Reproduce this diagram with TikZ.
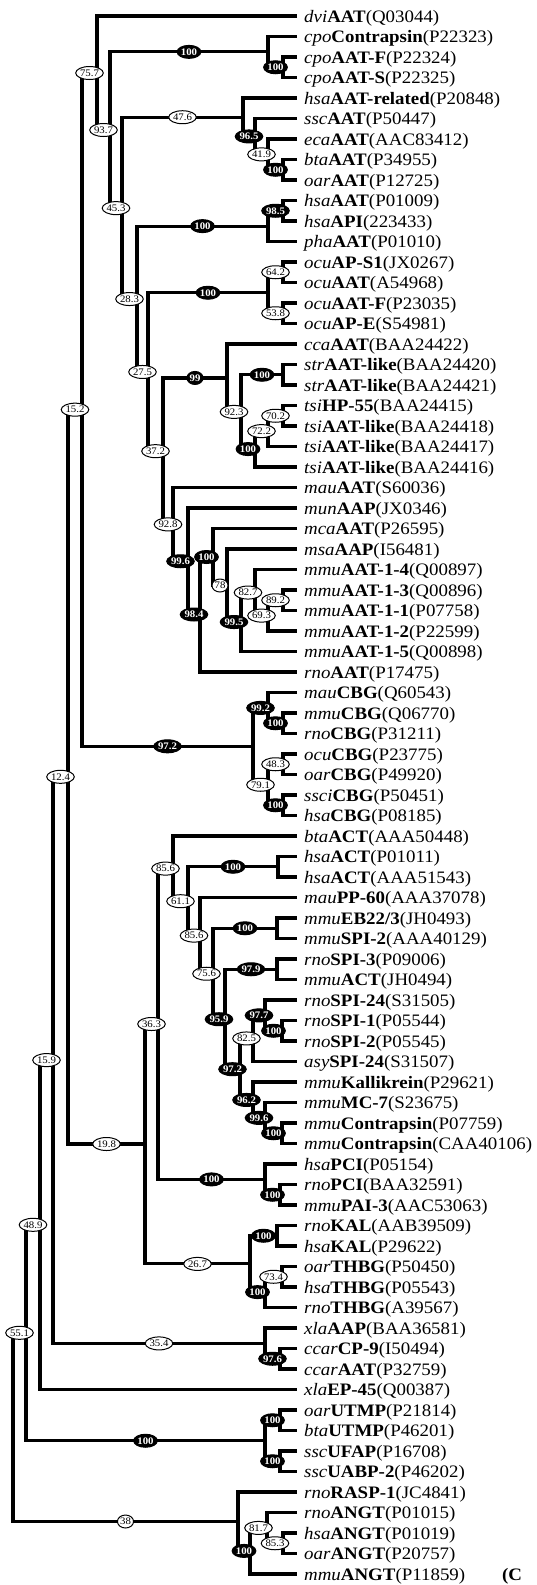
\documentclass[tikz,border=0pt]{standalone}
\usepackage{fontspec}
\setmainfont{Liberation Serif}[FakeStretch=1.08]
\usetikzlibrary{shapes.geometric,calc}
\newcommand\lf[3]{\textit{#1}\textbf{#2}(#3)}
\newcommand\brlab[4]{\node[#1] at ($(#2 |- #3)!0.5!(#3)$) {#4};}
\begin{document}
\begin{tikzpicture}[x=1pt,y=-1pt,
  br/.style={line width=3.1pt, line join=miter},
  leaf/.style={anchor=west, inner xsep=7pt, inner ysep=0pt, text height=12pt, text depth=0pt, font=\fontsize{17.5}{20}\selectfont},
  wl/.style={ellipse, draw, line width=1pt, fill=white, inner xsep=0.3pt, inner ysep=0pt, minimum height=13pt, font=\fontsize{10}{10}\selectfont},
  bl/.style={wl, fill=black, text=white, font=\fontsize{10}{10}\selectfont\bfseries}]
\useasboundingbox (0,0) rectangle (536,1585);
\fill[white] (0,0) rectangle (536,1585);
% leaves
\node[leaf] (t1) at (297,16) {\lf{dvi}{AAT}{Q03044}};
\node[leaf] (t2) at (297,36.5) {\lf{cpo}{Contrapsin}{P22323}};
\node[leaf] (t3) at (297,57) {\lf{cpo}{AAT-F}{P22324}};
\node[leaf] (t4) at (297,77.5) {\lf{cpo}{AAT-S}{P22325}};
\node[leaf] (t5) at (297,98) {\lf{hsa}{AAT-related}{P20848}};
\node[leaf] (t6) at (297,118.5) {\lf{ssc}{AAT}{P50447}};
\node[leaf] (t7) at (297,139) {\lf{eca}{AAT}{AAC83412}};
\node[leaf] (t8) at (297,159.5) {\lf{bta}{AAT}{P34955}};
\node[leaf] (t9) at (297,180) {\lf{oar}{AAT}{P12725}};
\node[leaf] (t10) at (297,200.5) {\lf{hsa}{AAT}{P01009}};
\node[leaf] (t11) at (297,221) {\lf{hsa}{API}{223433}};
\node[leaf] (t12) at (297,241.5) {\lf{pha}{AAT}{P01010}};
\node[leaf] (t13) at (297,262) {\lf{ocu}{AP-S1}{JX0267}};
\node[leaf] (t14) at (297,282.5) {\lf{ocu}{AAT}{A54968}};
\node[leaf] (t15) at (297,303) {\lf{ocu}{AAT-F}{P23035}};
\node[leaf] (t16) at (297,323.5) {\lf{ocu}{AP-E}{S54981}};
\node[leaf] (t17) at (297,344) {\lf{cca}{AAT}{BAA24422}};
\node[leaf] (t18) at (297,364.5) {\lf{str}{AAT-like}{BAA24420}};
\node[leaf] (t19) at (297,385) {\lf{str}{AAT-like}{BAA24421}};
\node[leaf] (t20) at (297,405.5) {\lf{tsi}{HP-55}{BAA24415}};
\node[leaf] (t21) at (297,426) {\lf{tsi}{AAT-like}{BAA24418}};
\node[leaf] (t22) at (297,446.5) {\lf{tsi}{AAT-like}{BAA24417}};
\node[leaf] (t23) at (297,467) {\lf{tsi}{AAT-like}{BAA24416}};
\node[leaf] (t24) at (297,487.5) {\lf{mau}{AAT}{S60036}};
\node[leaf] (t25) at (297,508) {\lf{mun}{AAP}{JX0346}};
\node[leaf] (t26) at (297,528.5) {\lf{mca}{AAT}{P26595}};
\node[leaf] (t27) at (297,549) {\lf{msa}{AAP}{I56481}};
\node[leaf] (t28) at (297,569.5) {\lf{mmu}{AAT-1-4}{Q00897}};
\node[leaf] (t29) at (297,590) {\lf{mmu}{AAT-1-3}{Q00896}};
\node[leaf] (t30) at (297,610.5) {\lf{mmu}{AAT-1-1}{P07758}};
\node[leaf] (t31) at (297,631) {\lf{mmu}{AAT-1-2}{P22599}};
\node[leaf] (t32) at (297,651.5) {\lf{mmu}{AAT-1-5}{Q00898}};
\node[leaf] (t33) at (297,672) {\lf{rno}{AAT}{P17475}};
\node[leaf] (t34) at (297,692.5) {\lf{mau}{CBG}{Q60543}};
\node[leaf] (t35) at (297,713) {\lf{mmu}{CBG}{Q06770}};
\node[leaf] (t36) at (297,733.5) {\lf{rno}{CBG}{P31211}};
\node[leaf] (t37) at (297,754) {\lf{ocu}{CBG}{P23775}};
\node[leaf] (t38) at (297,774.5) {\lf{oar}{CBG}{P49920}};
\node[leaf] (t39) at (297,795) {\lf{ssci}{CBG}{P50451}};
\node[leaf] (t40) at (297,815.5) {\lf{hsa}{CBG}{P08185}};
\node[leaf] (t41) at (297,836) {\lf{bta}{ACT}{AAA50448}};
\node[leaf] (t42) at (297,856.5) {\lf{hsa}{ACT}{P01011}};
\node[leaf] (t43) at (297,877) {\lf{hsa}{ACT}{AAA51543}};
\node[leaf] (t44) at (297,897.5) {\lf{mau}{PP-60}{AAA37078}};
\node[leaf] (t45) at (297,918) {\lf{mmu}{EB22/3}{JH0493}};
\node[leaf] (t46) at (297,938.5) {\lf{mmu}{SPI-2}{AAA40129}};
\node[leaf] (t47) at (297,959) {\lf{rno}{SPI-3}{P09006}};
\node[leaf] (t48) at (297,979.5) {\lf{mmu}{ACT}{JH0494}};
\node[leaf] (t49) at (297,1000) {\lf{rno}{SPI-24}{S31505}};
\node[leaf] (t50) at (297,1020.5) {\lf{rno}{SPI-1}{P05544}};
\node[leaf] (t51) at (297,1041) {\lf{rno}{SPI-2}{P05545}};
\node[leaf] (t52) at (297,1061.5) {\lf{asy}{SPI-24}{S31507}};
\node[leaf] (t53) at (297,1082) {\lf{mmu}{Kallikrein}{P29621}};
\node[leaf] (t54) at (297,1102.5) {\lf{mmu}{MC-7}{S23675}};
\node[leaf] (t55) at (297,1123) {\lf{mmu}{Contrapsin}{P07759}};
\node[leaf] (t56) at (297,1143.5) {\lf{mmu}{Contrapsin}{CAA40106}};
\node[leaf] (t57) at (297,1164) {\lf{hsa}{PCI}{P05154}};
\node[leaf] (t58) at (297,1184.5) {\lf{rno}{PCI}{BAA32591}};
\node[leaf] (t59) at (297,1205) {\lf{mmu}{PAI-3}{AAC53063}};
\node[leaf] (t60) at (297,1225.5) {\lf{rno}{KAL}{AAB39509}};
\node[leaf] (t61) at (297,1246) {\lf{hsa}{KAL}{P29622}};
\node[leaf] (t62) at (297,1266.5) {\lf{oar}{THBG}{P50450}};
\node[leaf] (t63) at (297,1287) {\lf{hsa}{THBG}{P05543}};
\node[leaf] (t64) at (297,1307.5) {\lf{rno}{THBG}{A39567}};
\node[leaf] (t65) at (297,1328) {\lf{xla}{AAP}{BAA36581}};
\node[leaf] (t66) at (297,1348.5) {\lf{ccar}{CP-9}{I50494}};
\node[leaf] (t67) at (297,1369) {\lf{ccar}{AAT}{P32759}};
\node[leaf] (t68) at (297,1389.5) {\lf{xla}{EP-45}{Q00387}};
\node[leaf] (t69) at (297,1410) {\lf{oar}{UTMP}{P21814}};
\node[leaf] (t70) at (297,1430.5) {\lf{bta}{UTMP}{P46201}};
\node[leaf] (t71) at (297,1451) {\lf{ssc}{UFAP}{P16708}};
\node[leaf] (t72) at (297,1471.5) {\lf{ssc}{UABP-2}{P46202}};
\node[leaf] (t73) at (297,1492) {\lf{rno}{RASP-1}{JC4841}};
\node[leaf] (t74) at (297,1512.5) {\lf{rno}{ANGT}{P01015}};
\node[leaf] (t75) at (297,1533) {\lf{hsa}{ANGT}{P01019}};
\node[leaf] (t76) at (297,1553.5) {\lf{oar}{ANGT}{P20757}};
\node[leaf] (t77) at (297,1574) {\lf{mmu}{ANGT}{P11859}};
\node[leaf, inner xsep=0pt] (panel) at (502,1574) {\textbf{(C}};
% internal nodes
\coordinate (nRoot) at (13,1427.15);
\coordinate (nB6) at (26,1332.8);
\coordinate (nB5) at (40,1224.8);
\coordinate (nB4) at (53,1060.1);
\coordinate (nAAA) at (68,776.8);
\coordinate (nAA) at (82,409.66);
\coordinate (nA) at (97,73.0);
\coordinate (nB) at (110,130.0);
\coordinate (nCPO) at (268,51.875);
\coordinate (nCPO2) at (283,67.25);
\coordinate (nC) at (122,208.13);
\coordinate (nE) at (243,117.22);
\coordinate (nF) at (255,136.44);
\coordinate (nG) at (268,154.375);
\coordinate (nH) at (283,169.75);
\coordinate (nD) at (137,299.04);
\coordinate (nJ) at (268,226.125);
\coordinate (nI) at (283,210.75);
\coordinate (nD2) at (148,371.96);
\coordinate (nK) at (268,292.75);
\coordinate (nK1) at (283,272.25);
\coordinate (nK2) at (283,313.25);
\coordinate (nD3) at (163,451.17);
\coordinate (nM) at (227,377.95);
\coordinate (nN) at (241,411.9);
\coordinate (nSTR) at (283,374.75);
\coordinate (nO) at (255,449.06);
\coordinate (nP) at (268,431.125);
\coordinate (nQ) at (283,415.75);
\coordinate (nR) at (173,524.38);
\coordinate (nS) at (188,561.25);
\coordinate (nT) at (200,614.5);
\coordinate (nU) at (213,557.0);
\coordinate (nV) at (227,585.5);
\coordinate (nW) at (241,622.03);
\coordinate (nX) at (255,592.56);
\coordinate (nY) at (268,615.6);
\coordinate (nZ) at (283,600.25);
\coordinate (nCB) at (253,746.3);
\coordinate (nCB1) at (268,707.9);
\coordinate (nCB3) at (283,723.25);
\coordinate (nCB2) at (268,784.75);
\coordinate (nCB4) at (283,764.25);
\coordinate (nCB5) at (283,805.25);
\coordinate (nACT) at (145,1144.0);
\coordinate (nACT1) at (158,1024.0);
\coordinate (nACT2) at (173,868.6);
\coordinate (n611) at (188,901.2);
\coordinate (nHACT) at (278,866.75);
\coordinate (nACT4) at (200,935.6);
\coordinate (n756) at (213,973.73);
\coordinate (nEB) at (277,928.25);
\coordinate (n959) at (225,1019.22);
\coordinate (n979) at (277,969.25);
\coordinate (n972) at (240,1069.19);
\coordinate (n825) at (253,1038.44);
\coordinate (n977) at (265,1015.375);
\coordinate (nSPI) at (282,1030.75);
\coordinate (n962) at (253,1099.94);
\coordinate (n996) at (265,1117.875);
\coordinate (nCON) at (282,1133.25);
\coordinate (nPCI) at (265,1179.4);
\coordinate (nPCI2) at (280,1194.75);
\coordinate (n267) at (250,1263.9);
\coordinate (nKAL) at (277,1235.75);
\coordinate (nTH) at (265,1292.1);
\coordinate (nTH2) at (282,1276.75);
\coordinate (nX35) at (265,1343.4);
\coordinate (nCC) at (280,1358.75);
\coordinate (nUT) at (265,1440.75);
\coordinate (nUT1) at (280,1420.25);
\coordinate (nUT2) at (280,1461.25);
\coordinate (nANG) at (238,1521.5);
\coordinate (nAN2) at (250,1550.9);
\coordinate (nAN3) at (267,1527.9);
\coordinate (nAN4) at (283,1543.25);
% branches
\draw[br] (t1.west) -| (nA) |- (nB);
\draw[br] (nCPO) -| (nB) |- (nC);
\draw[br] (t2.west) -| (nCPO) |- (nCPO2);
\draw[br] (t3.west) -| (nCPO2) |- (t4.west);
\draw[br] (nE) -| (nC) |- (nD);
\draw[br] (t5.west) -| (nE) |- (nF);
\draw[br] (t6.west) -| (nF) |- (nG);
\draw[br] (t7.west) -| (nG) |- (nH);
\draw[br] (t8.west) -| (nH) |- (t9.west);
\draw[br] (nJ) -| (nD) |- (nD2);
\draw[br] (nI) -| (nJ) |- (t12.west);
\draw[br] (t10.west) -| (nI) |- (t11.west);
\draw[br] (nK) -| (nD2) |- (nD3);
\draw[br] (nK1) -| (nK) |- (nK2);
\draw[br] (t13.west) -| (nK1) |- (t14.west);
\draw[br] (t15.west) -| (nK2) |- (t16.west);
\draw[br] (nM) -| (nD3) |- (nR);
\draw[br] (t17.west) -| (nM) |- (nN);
\draw[br] (nSTR) -| (nN) |- (nO);
\draw[br] (t18.west) -| (nSTR) |- (t19.west);
\draw[br] (nP) -| (nO) |- (t23.west);
\draw[br] (nQ) -| (nP) |- (t22.west);
\draw[br] (t20.west) -| (nQ) |- (t21.west);
\draw[br] (t24.west) -| (nR) |- (nS);
\draw[br] (t25.west) -| (nS) |- (nT);
\draw[br] (nU) -| (nT) |- (t33.west);
\draw[br] (t26.west) -| (nU) |- (nV);
\draw[br] (t27.west) -| (nV) |- (nW);
\draw[br] (nX) -| (nW) |- (t32.west);
\draw[br] (t28.west) -| (nX) |- (nY);
\draw[br] (nZ) -| (nY) |- (t31.west);
\draw[br] (t29.west) -| (nZ) |- (t30.west);
\draw[br] (nA) -| (nAA) |- (nCB);
\draw[br] (nCB1) -| (nCB) |- (nCB2);
\draw[br] (t34.west) -| (nCB1) |- (nCB3);
\draw[br] (t35.west) -| (nCB3) |- (t36.west);
\draw[br] (nCB4) -| (nCB2) |- (nCB5);
\draw[br] (t37.west) -| (nCB4) |- (t38.west);
\draw[br] (t39.west) -| (nCB5) |- (t40.west);
\draw[br] (nAA) -| (nAAA) |- (nACT);
\draw[br] (nACT1) -| (nACT) |- (n267);
\draw[br] (nACT2) -| (nACT1) |- (nPCI);
\draw[br] (t41.west) -| (nACT2) |- (n611);
\draw[br] (nHACT) -| (n611) |- (nACT4);
\draw[br] (t42.west) -| (nHACT) |- (t43.west);
\draw[br] (t44.west) -| (nACT4) |- (n756);
\draw[br] (nEB) -| (n756) |- (n959);
\draw[br] (t45.west) -| (nEB) |- (t46.west);
\draw[br] (n979) -| (n959) |- (n972);
\draw[br] (t47.west) -| (n979) |- (t48.west);
\draw[br] (n825) -| (n972) |- (n962);
\draw[br] (n977) -| (n825) |- (t52.west);
\draw[br] (t49.west) -| (n977) |- (nSPI);
\draw[br] (t50.west) -| (nSPI) |- (t51.west);
\draw[br] (t53.west) -| (n962) |- (n996);
\draw[br] (t54.west) -| (n996) |- (nCON);
\draw[br] (t55.west) -| (nCON) |- (t56.west);
\draw[br] (t57.west) -| (nPCI) |- (nPCI2);
\draw[br] (t58.west) -| (nPCI2) |- (t59.west);
\draw[br] (nKAL) -| (n267) |- (nTH);
\draw[br] (t60.west) -| (nKAL) |- (t61.west);
\draw[br] (nTH2) -| (nTH) |- (t64.west);
\draw[br] (t62.west) -| (nTH2) |- (t63.west);
\draw[br] (nAAA) -| (nB4) |- (nX35);
\draw[br] (t65.west) -| (nX35) |- (nCC);
\draw[br] (t66.west) -| (nCC) |- (t67.west);
\draw[br] (nB4) -| (nB5) |- (t68.west);
\draw[br] (nB5) -| (nB6) |- (nUT);
\draw[br] (nUT1) -| (nUT) |- (nUT2);
\draw[br] (t69.west) -| (nUT1) |- (t70.west);
\draw[br] (t71.west) -| (nUT2) |- (t72.west);
\draw[br] (nB6) -| (nRoot) |- (nANG);
\draw[br] (t73.west) -| (nANG) |- (nAN2);
\draw[br] (nAN3) -| (nAN2) |- (t77.west);
\draw[br] (t74.west) -| (nAN3) |- (nAN4);
\draw[br] (t75.west) -| (nAN4) |- (t76.west);
% support labels
\brlab{wl}{nAA}{nA}{75.7}
\brlab{wl}{nA}{nB}{93.7}
\brlab{bl}{nB}{nCPO}{100}
\brlab{bl}{nCPO}{nCPO2}{100}
\brlab{wl}{nB}{nC}{45.3}
\brlab{wl}{nC}{nE}{47.6}
\brlab{bl}{nE}{nF}{96.5}
\brlab{wl}{nF}{nG}{41.9}
\brlab{bl}{nG}{nH}{100}
\brlab{wl}{nC}{nD}{28.3}
\brlab{bl}{nD}{nJ}{100}
\brlab{bl}{nJ}{nI}{98.5}
\brlab{wl}{nD}{nD2}{27.5}
\brlab{bl}{nD2}{nK}{100}
\brlab{wl}{nK}{nK1}{64.2}
\brlab{wl}{nK}{nK2}{53.8}
\brlab{wl}{nD2}{nD3}{37.2}
\brlab{bl}{nD3}{nM}{99}
\brlab{wl}{nM}{nN}{92.3}
\brlab{bl}{nN}{nSTR}{100}
\brlab{bl}{nN}{nO}{100}
\brlab{wl}{nO}{nP}{72.2}
\brlab{wl}{nP}{nQ}{70.2}
\brlab{wl}{nD3}{nR}{92.8}
\brlab{bl}{nR}{nS}{99.6}
\brlab{bl}{nS}{nT}{98.4}
\brlab{bl}{nT}{nU}{100}
\brlab{wl}{nU}{nV}{78}
\brlab{bl}{nV}{nW}{99.5}
\brlab{wl}{nW}{nX}{82.7}
\brlab{wl}{nX}{nY}{69.3}
\brlab{wl}{nY}{nZ}{89.2}
\brlab{wl}{nAAA}{nAA}{15.2}
\brlab{bl}{nAA}{nCB}{97.2}
\brlab{bl}{nCB}{nCB1}{99.2}
\brlab{bl}{nCB1}{nCB3}{100}
\brlab{wl}{nCB}{nCB2}{79.1}
\brlab{wl}{nCB2}{nCB4}{48.3}
\brlab{bl}{nCB2}{nCB5}{100}
\brlab{wl}{nB4}{nAAA}{12.4}
\brlab{wl}{nAAA}{nACT}{19.8}
\brlab{wl}{nACT}{nACT1}{36.3}
\brlab{wl}{nACT1}{nACT2}{85.6}
\brlab{wl}{nACT2}{n611}{61.1}
\brlab{bl}{n611}{nHACT}{100}
\brlab{wl}{n611}{nACT4}{85.6}
\brlab{wl}{nACT4}{n756}{75.6}
\brlab{bl}{n756}{nEB}{100}
\brlab{bl}{n756}{n959}{95.9}
\brlab{bl}{n959}{n979}{97.9}
\brlab{bl}{n959}{n972}{97.2}
\brlab{wl}{n972}{n825}{82.5}
\brlab{bl}{n825}{n977}{97.7}
\brlab{bl}{n977}{nSPI}{100}
\brlab{bl}{n972}{n962}{96.2}
\brlab{bl}{n962}{n996}{99.6}
\brlab{bl}{n996}{nCON}{100}
\brlab{bl}{nACT1}{nPCI}{100}
\brlab{bl}{nPCI}{nPCI2}{100}
\brlab{wl}{nACT}{n267}{26.7}
\brlab{bl}{n267}{nKAL}{100}
\brlab{bl}{n267}{nTH}{100}
\brlab{wl}{nTH}{nTH2}{73.4}
\brlab{wl}{nB5}{nB4}{15.9}
\brlab{wl}{nB4}{nX35}{35.4}
\brlab{bl}{nX35}{nCC}{97.6}
\brlab{wl}{nB6}{nB5}{48.9}
\brlab{wl}{nRoot}{nB6}{55.1}
\brlab{bl}{nB6}{nUT}{100}
\brlab{bl}{nUT}{nUT1}{100}
\brlab{bl}{nUT}{nUT2}{100}
\brlab{wl}{nRoot}{nANG}{38}
\brlab{bl}{nANG}{nAN2}{100}
\brlab{wl}{nAN2}{nAN3}{81.7}
\brlab{wl}{nAN3}{nAN4}{85.3}
\end{tikzpicture}
\end{document}
